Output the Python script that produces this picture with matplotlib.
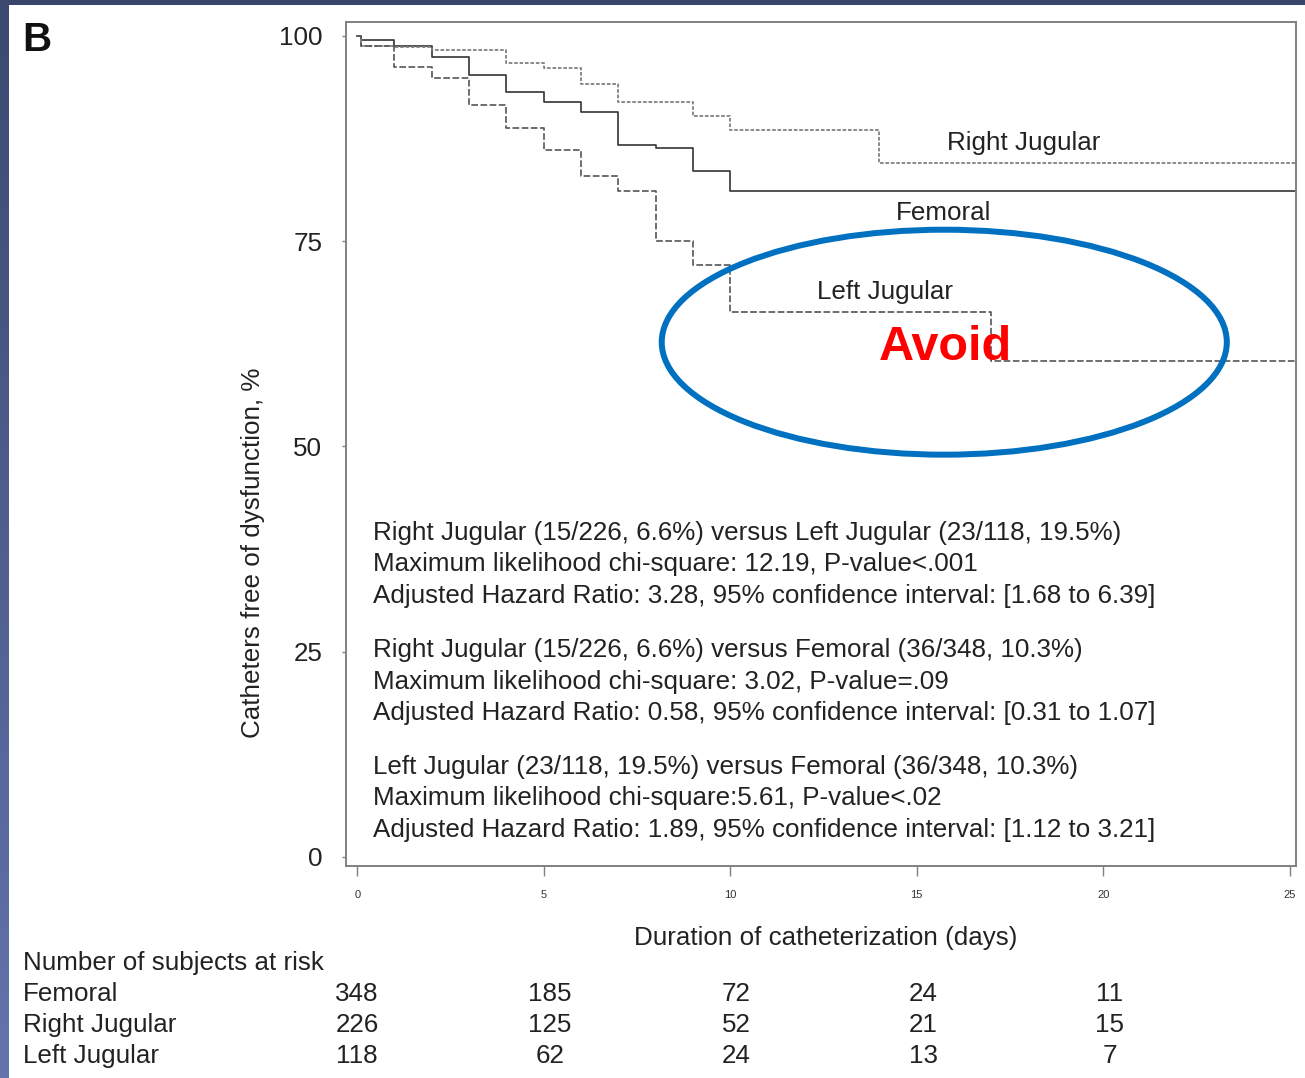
import numpy as np
import matplotlib
matplotlib.use("Agg")
import matplotlib.pyplot as plt
from matplotlib.patches import Ellipse

plt.rcParams['font.family'] = ['Liberation Sans', 'DejaVu Sans']

# Kaplan-Meier steps: day of event, % free of dysfunction after it
fem_days = [0, 0.1, 1, 2, 3, 4, 5, 6, 7, 8, 9, 10, 25.2]
fem_surv = [100, 99.5, 98.8, 97.4, 95.2, 93.2, 92.0, 90.7, 86.7, 86.4, 83.5, 81.1, 81.1]

rj_days = [0, 0.1, 1, 2, 4, 5, 6, 7, 9, 10, 14, 25.2]
rj_surv = [100, 98.8, 98.7, 98.3, 96.7, 96.1, 94.1, 91.9, 90.3, 88.6, 84.5, 84.5]

lj_days = [0, 0.1, 1, 2, 3, 4, 5, 6, 7, 8, 9, 10, 17, 25.2]
lj_surv = [100, 98.8, 96.2, 94.9, 91.6, 88.8, 86.1, 82.9, 81.1, 75.0, 72.1, 66.4, 60.4, 60.4]

# number at risk table
risk_days = [0, 5, 10, 15, 20]
risk_groups = ['Femoral', 'Right Jugular', 'Left Jugular']
risk_fem = [348, 185, 72, 24, 11]
risk_rj = [226, 125, 52, 21, 15]
risk_lj = [118, 62, 24, 13, 7]

stats_lines = [
    'Right Jugular (15/226, 6.6%) versus Left Jugular (23/118, 19.5%)',
    'Maximum likelihood chi-square: 12.19, P-value<.001',
    'Adjusted Hazard Ratio: 3.28, 95% confidence interval: [1.68 to 6.39]',
    'Right Jugular (15/226, 6.6%) versus Femoral (36/348, 10.3%)',
    'Maximum likelihood chi-square: 3.02, P-value=.09',
    'Adjusted Hazard Ratio: 0.58, 95% confidence interval: [0.31 to 1.07]',
    'Left Jugular (23/118, 19.5%) versus Femoral (36/348, 10.3%)',
    'Maximum likelihood chi-square:5.61, P-value<.02',
    'Adjusted Hazard Ratio: 1.89, 95% confidence interval: [1.12 to 3.21]',
]

W, H = 1305, 1078
fs = 18.7
fig = plt.figure(figsize=(W / 100, H / 100), dpi=100)
fig.patch.set_facecolor('white')

# slide border: dark bar on top, blue gradient strip on the left
top = fig.add_axes([0, 1 - 5 / H, 1, 5 / H])
top.set_facecolor('#38446a')
top.set_xticks([]); top.set_yticks([])
for s in top.spines.values():
    s.set_visible(False)
side = fig.add_axes([0, 0, 9 / W, 1])
grad = np.linspace(0, 1, 256).reshape(-1, 1)
cmap = matplotlib.colors.LinearSegmentedColormap.from_list('side', ['#3c4970', '#6374ad'])
side.imshow(grad, aspect='auto', cmap=cmap)
side.axis('off')

ax = fig.add_axes([346 / W, 1 - 866 / H, 950 / W, 844 / H])
ax.step(fem_days, fem_surv, where='post', color='#333333', lw=1.2)
ax.step(rj_days, rj_surv, where='post', color='#808080', lw=1.3, ls=(0, (2, 1)))
ax.step(lj_days, lj_surv, where='post', color='#555555', lw=1.2, ls=(0, (4, 1.5)))

ax.set_xlim(-0.3, 25.17)
ax.set_ylim(-1.1, 101.7)
for s in ax.spines.values():
    s.set_color('#808080')
    s.set_linewidth(1.4)

ax.set_yticks([0, 25, 50, 75, 100])
ax.set_xticks([0, 5, 10, 15, 20, 25])
ax.tick_params(axis='y', length=3, width=1, color='#808080', pad=14,
               labelsize=fs, labelcolor='#222222')
ax.tick_params(axis='x', length=7, width=1, color='#808080', pad=10,
               labelsize=8, labelcolor='#333333')

# curve labels
ax.text(17.88, 87.0, 'Right Jugular', fontsize=fs, color='#222222', ha='center', va='center')
ax.text(15.72, 78.4, 'Femoral', fontsize=fs, color='#222222', ha='center', va='center')
ax.text(14.15, 68.8, 'Left Jugular', fontsize=fs, color='#222222', ha='center', va='center')

# highlight around the left jugular tail
ax.add_patch(Ellipse((15.74, 62.7), 15.15, 27.4, fill=False,
                     edgecolor='#0070C0', lw=4.3, zorder=5))
ax.text(15.78, 62.1, 'Avoid', fontsize=35, fontweight='bold', color='#FF0000',
        ha='center', va='center', zorder=6)

# comparison statistics
y0 = 533
for i, line in enumerate(stats_lines):
    y = y0 + (i % 3) * 31.5 + (i // 3) * 117
    fig.text(373 / W, 1 - y / H, line, fontsize=fs, color='#222222',
             ha='left', va='center')

fig.text(37 / W, 1 - 40 / H, 'B', fontsize=29, fontweight='bold', color='#111111',
         ha='center', va='center')
fig.text(253 / W, 1 - 553 / H, 'Catheters free of dysfunction, %', fontsize=fs,
         color='#222222', rotation=90, ha='center', va='center')
fig.text(826 / W, 1 - 938 / H, 'Duration of catheterization (days)', fontsize=fs,
         color='#222222', ha='center', va='center')

# number at risk below the axis
fig.text(23 / W, 1 - 963 / H, 'Number of subjects at risk', fontsize=fs,
         color='#222222', ha='left', va='center')
trans = matplotlib.transforms.blended_transform_factory(ax.transData, fig.transFigure)
for k, (name, counts) in enumerate(zip(risk_groups, [risk_fem, risk_rj, risk_lj])):
    y = 1 - (994 + 31 * k) / H
    fig.text(23 / W, y, name, fontsize=fs, color='#222222', ha='left', va='center')
    for d, n in zip(risk_days, counts):
        ax.text(d + (0.17 if d else 0), y, str(n), transform=trans, fontsize=fs,
                color='#222222', ha='center', va='center', clip_on=False)

fig.savefig('out.png', dpi=100)
